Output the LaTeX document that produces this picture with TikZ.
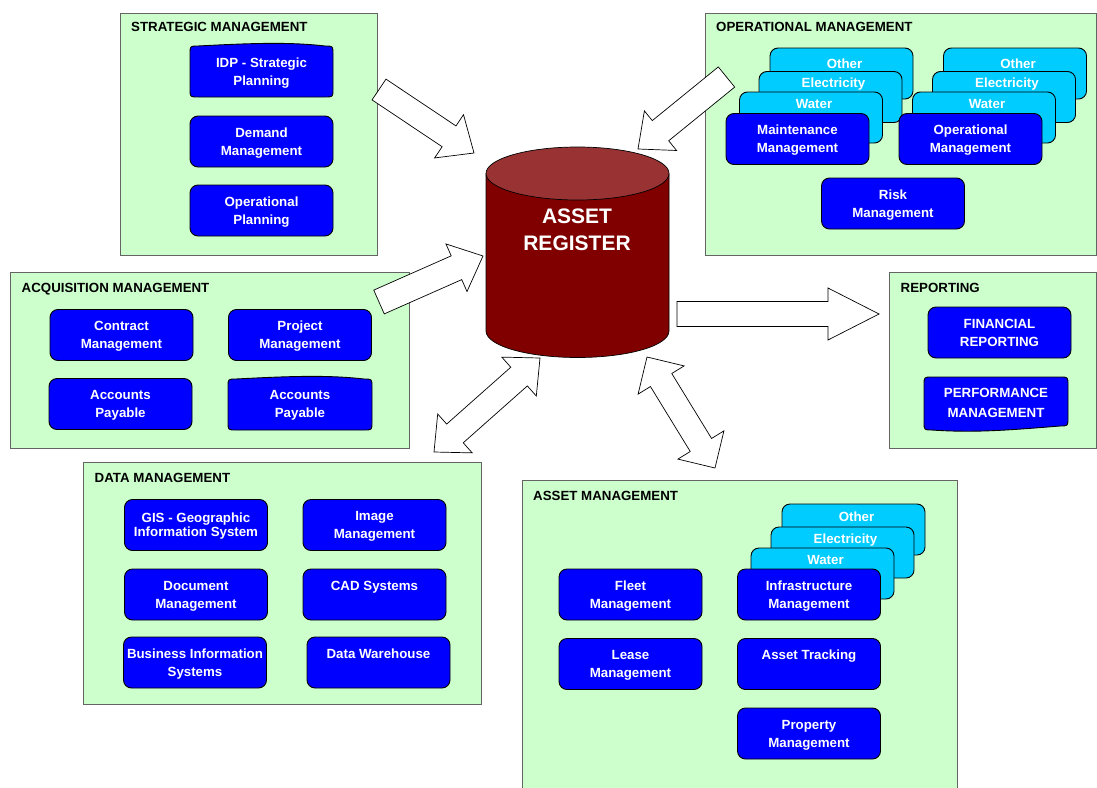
\documentclass[tikz,border=0pt]{standalone}
\usepackage{fontspec}
\setmainfont{Liberation Sans}
\usetikzlibrary{calc}

\definecolor{panelgreen}{RGB}{204,255,204}
\definecolor{panelline}{RGB}{100,100,100}
\definecolor{boxblue}{RGB}{0,0,255}
\definecolor{stackcyan}{RGB}{0,204,255}
\definecolor{cyltop}{RGB}{153,51,51}
\definecolor{cylbody}{RGB}{128,0,0}

\tikzset{
  panel/.style={draw=panelline, fill=panelgreen, line width=0.9pt},
  paneltitle/.style={anchor=base west, inner sep=0pt, text=black,
    font=\fontsize{13.3}{16}\selectfont\bfseries},
  boxtext/.style={text=white, align=center, inner sep=0pt, text depth=0pt,
    font=\fontsize{13.3}{18}\selectfont\bfseries},
  bluebox/.style={boxtext, draw=black, fill=boxblue, rounded corners=8pt,
    line width=0.9pt, minimum width=143pt, minimum height=51pt},
  cyanbox/.style={bluebox, fill=stackcyan},
  wavystyle/.style={draw=black, fill=boxblue, line width=0.9pt},
  blockarrowstyle/.style={draw=black, fill=white, line width=0.7pt, line join=miter},
}

% rounded box whose top edge is slightly wavy: x1, y1 (top), x2, y2 (bottom)
\newcommand{\topwavebox}[4]{%
  \draw[wavystyle] (#1,#2+8) .. controls (#1,#2) .. (#1+8,#2)
    .. controls ({#1+0.45*(#3-#1)},#2-3) and ({#1+0.7*(#3-#1)},#2-4) .. (#3-8,#2)
    .. controls (#3,#2) .. (#3,#2+8) -- (#3,#4-8)
    .. controls (#3,#4) .. (#3-8,#4) -- (#1+8,#4)
    .. controls (#1,#4) .. (#1,#4-8) -- cycle;}
% rounded box whose bottom edge is slightly wavy
\newcommand{\bottomwavebox}[4]{%
  \draw[wavystyle] (#1,#2+8) .. controls (#1,#2) .. (#1+8,#2) -- (#3-8,#2)
    .. controls (#3,#2) .. (#3,#2+8) -- (#3,#4-12)
    .. controls (#3,#4-4) .. (#3-8,#4-4)
    .. controls ({#1+0.6*(#3-#1)},#4) and ({#1+0.35*(#3-#1)},#4+3) .. (#1+8,#4)
    .. controls (#1,#4) .. (#1,#4-8) -- cycle;}

% block arrow from tail #1 to tip #2: half shaft #3, half head #4, head length #5
\newcommand{\blockarrow}[5]{%
  \path ($(#2)!#5!(#1)$) coordinate (ba-base);
  \draw[blockarrowstyle] ($(#1)!#3!90:(#2)$) -- ($(ba-base)!#3!90:(#2)$)
    -- ($(ba-base)!#4!90:(#2)$) -- (#2) -- ($(ba-base)!#4!-90:(#2)$)
    -- ($(ba-base)!#3!-90:(#2)$) -- ($(#1)!#3!-90:(#2)$) -- cycle;}
% double-headed block arrow between #1 and #2
\newcommand{\doublearrow}[5]{%
  \path ($(#1)!#5!(#2)$) coordinate (da-a) ($(#2)!#5!(#1)$) coordinate (da-b);
  \draw[blockarrowstyle] (#1) -- ($(da-a)!#4!90:(#2)$) -- ($(da-a)!#3!90:(#2)$)
    -- ($(da-b)!#3!90:(#2)$) -- ($(da-b)!#4!90:(#2)$) -- (#2)
    -- ($(da-b)!#4!-90:(#2)$) -- ($(da-b)!#3!-90:(#2)$)
    -- ($(da-a)!#3!-90:(#2)$) -- ($(da-a)!#4!-90:(#2)$) -- cycle;}

\begin{document}
\begin{tikzpicture}[x=1pt, y=-1pt]
\useasboundingbox[fill=white] (0,0) rectangle (1097,787);

% ---------- panels ----------
\draw[panel] (120,13) rectangle (377,255);
\draw[panel] (705,13) rectangle (1096,255);
\draw[panel] (10,272) rectangle (409,448);
\draw[panel] (889,272) rectangle (1096,448);
\draw[panel] (83,462) rectangle (481,704);
\draw[panel] (522,480) rectangle (957,792);

\node[paneltitle] (t-strat) at (131,31.5) {STRATEGIC MANAGEMENT};
\node[paneltitle] (t-oper) at (716,31.5) {OPERATIONAL MANAGEMENT};
\node[paneltitle] (t-acq) at (21.5,292) {ACQUISITION MANAGEMENT};
\node[paneltitle] (t-rep) at (900.5,292) {REPORTING};
\node[paneltitle] (t-data) at (94.5,482) {DATA MANAGEMENT};
\node[paneltitle] (t-asset) at (533,500.5) {ASSET MANAGEMENT};

% ---------- strategic management ----------
\topwavebox{190}{46}{333}{97}
\node[boxtext] (idp) at (261.5,71.5) {IDP - Strategic\\Planning};
\node[bluebox] (demand) at (261.5,141.5) {Demand\\Management};
\node[bluebox] (opplan) at (261.5,210.5) {Operational\\Planning};

% ---------- operational management ----------
\node[cyanbox] (om-other1) at (841.5,73.5) {};
\node[cyanbox] (om-elec1) at (830.5,97) {};
\node[cyanbox] (om-water1) at (811,117.5) {};
\node[bluebox] (maint) at (797.5,139) {Maintenance\\Management};
\node[boxtext] at ([xshift=3pt,yshift=-16pt]om-other1.north) {Other};
\node[boxtext] at ([xshift=3pt,yshift=-12pt]om-elec1.north) {Electricity};
\node[boxtext] at ([xshift=3pt,yshift=-12pt]om-water1.north) {Water};

\node[cyanbox] (om-other2) at (1015,73.5) {};
\node[cyanbox] (om-elec2) at (1004,97) {};
\node[cyanbox] (om-water2) at (984,117.5) {};
\node[bluebox] (opmgmt) at (970.5,139) {Operational\\Management};
\node[boxtext] at ([xshift=3pt,yshift=-16pt]om-other2.north) {Other};
\node[boxtext] at ([xshift=3pt,yshift=-12pt]om-elec2.north) {Electricity};
\node[boxtext] at ([xshift=3pt,yshift=-12pt]om-water2.north) {Water};

\node[bluebox] (risk) at (893,203.5) {Risk\\Management};

% ---------- acquisition management ----------
\node[bluebox] (contract) at (121.5,335) {Contract\\Management};
\node[bluebox] (project) at (300,335) {Project\\Management};
\node[bluebox] (ap1) at (120.5,404) {Accounts\\Payable};
\topwavebox{228}{379}{372}{430}
\node[boxtext] (ap2) at (300,403.5) {Accounts\\Payable};

% ---------- reporting ----------
\node[bluebox] (fin) at (999.5,332.5) {FINANCIAL\\REPORTING};
\bottomwavebox{924}{377}{1068}{430}
\node[boxtext, font=\fontsize{13.3}{19.5}\selectfont\bfseries] (perf) at (996,403) {PERFORMANCE\\MANAGEMENT};

% ---------- data management ----------
\node[bluebox, font=\fontsize{13.3}{14}\selectfont\bfseries] (gis) at (196,525) {GIS - Geographic\\Information System};
\node[bluebox] (image) at (374.5,525) {Image\\Management};
\node[bluebox] (doc) at (196,594.5) {Document\\Management};
\node[bluebox] (cad) at (374.5,594.5) {CAD Systems\\~};
\node[bluebox] (bis) at (195,662.5) {Business Information\\Systems};
\node[bluebox] (dw) at (378.5,662.5) {Data Warehouse\\~};

% ---------- asset management ----------
\node[bluebox] (fleet) at (630.5,594.5) {Fleet\\Management};
\node[bluebox] (lease) at (630.5,664) {Lease\\Management};
\node[cyanbox] (am-other) at (853.5,529.5) {};
\node[cyanbox] (am-elec) at (842.5,552.5) {};
\node[cyanbox] (am-water) at (822.5,573.5) {};
\node[bluebox] (infra) at (809,594.5) {Infrastructure\\Management};
\node[boxtext] at ([xshift=3pt,yshift=-13pt]am-other.north) {Other};
\node[boxtext] at ([xshift=3pt,yshift=-12pt]am-elec.north) {Electricity};
\node[boxtext] at ([xshift=3pt,yshift=-12pt]am-water.north) {Water};
\node[bluebox] (track) at (809,664) {Asset Tracking\\~};
\node[bluebox] (prop) at (809,733.5) {Property\\Management};

% ---------- asset register cylinder ----------
\fill[cylbody] (486,173.5) -- (486,331)
  arc[start angle=180, end angle=0, x radius=91.5, y radius=26.5]
  -- (669,173.5) -- cycle;
\draw[line width=0.7pt] (486,173.5) -- (486,331)
  arc[start angle=180, end angle=0, x radius=91.5, y radius=26.5]
  -- (669,173.5);
\draw[fill=cyltop, line width=0.7pt] (577.5,173.5) ellipse[x radius=91.5, y radius=26.5];
\node[text=white, align=center, inner sep=0pt,
  font=\fontsize{21}{27}\selectfont\bfseries] (register) at (577,230) {ASSET\\REGISTER};

% ---------- block arrows ----------
\coordinate (a-strat) at (379,89.5);   \coordinate (a-strat-tip) at (474,153);
\coordinate (a-oper) at (726.5,77);    \coordinate (a-oper-tip) at (638,149);
\coordinate (a-acq) at (379,302);      \coordinate (a-acq-tip) at (483,256);
\coordinate (a-rep) at (677,314);      \coordinate (a-rep-tip) at (879,314);
\coordinate (d-data) at (434,452);     \coordinate (d-data-reg) at (540,358);
\coordinate (d-asset-reg) at (647,357); \coordinate (d-asset) at (715,468);

\blockarrow{a-strat}{a-strat-tip}{12.5pt}{26pt}{30pt}
\blockarrow{a-oper}{a-oper-tip}{13pt}{25.5pt}{29pt}
\blockarrow{a-acq}{a-acq-tip}{13pt}{26pt}{29pt}
\blockarrow{a-rep}{a-rep-tip}{12.5pt}{26pt}{51pt}
\doublearrow{d-data}{d-data-reg}{12.5pt}{26pt}{28pt}
\doublearrow{d-asset-reg}{d-asset}{12.5pt}{27pt}{27pt}
\end{tikzpicture}
\end{document}
